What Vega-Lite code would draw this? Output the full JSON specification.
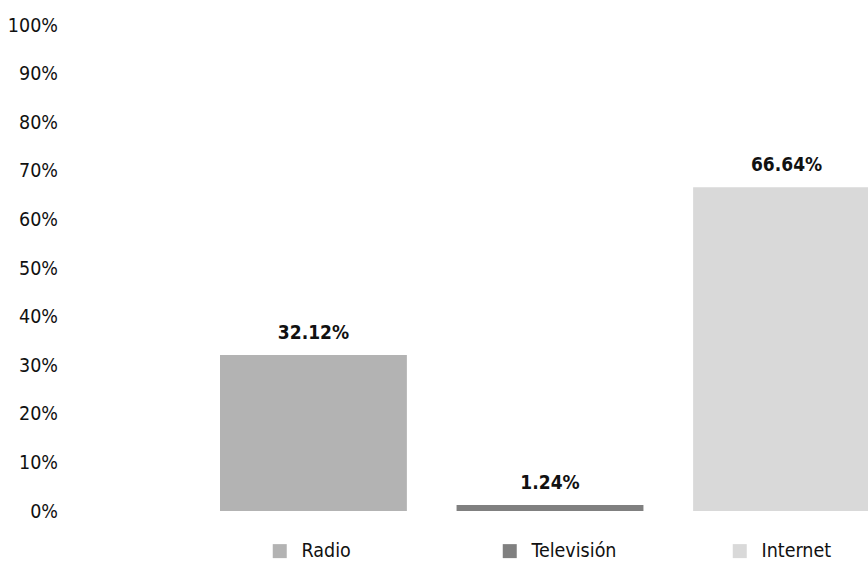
{
  "$schema": "https://vega.github.io/schema/vega-lite/v6.json",
  "width": 798,
  "height": 486,
  "autosize": {"type": "none"},
  "padding": {"left": 70, "top": 25, "right": 0, "bottom": 50},
  "background": "white",
  "config": {"view": {"stroke": null}, "font": "DejaVu Sans Condensed"},
  "data": {"values": [
    {"medio": "Radio", "pct": 0.3212},
    {"medio": "Televisión", "pct": 0.0124},
    {"medio": "Internet", "pct": 0.6664}
  ]},
  "encoding": {
    "x": {"field": "medio", "type": "nominal", "sort": ["Radio", "Televisión", "Internet"],
      "scale": {"range": [150, 810], "paddingInner": 0.21, "paddingOuter": 0}, "axis": null},
    "y": {"field": "pct", "type": "quantitative", "scale": {"domain": [0, 1]},
      "axis": {"values": [0, 0.1, 0.2, 0.3, 0.4, 0.5, 0.6, 0.7, 0.8, 0.9, 1], "format": ".0%",
        "domain": false, "ticks": false, "tickSize": 0, "grid": false, "labelPadding": 12.5,
        "labelFontSize": 19.5, "labelColor": "#111111", "labelFont": "DejaVu Sans Condensed", "title": null}}
  },
  "layer": [
    {"mark": {"type": "bar"},
     "encoding": {"color": {"field": "medio", "type": "nominal",
       "scale": {"domain": ["Radio", "Televisión", "Internet"], "range": ["#b3b3b3", "#808080", "#d9d9d9"]},
       "legend": {"orient": "none", "legendX": 200, "legendY": 516, "direction": "horizontal", "columns": 3,
         "gridAlign": "all", "title": null, "symbolType": "square", "symbolSize": 196, "symbolStrokeWidth": 0,
         "symbolOpacity": 1, "labelFontSize": 19.5, "labelOffset": 12, "columnPadding": 113, "padding": 0,
         "labelFont": "DejaVu Sans Condensed", "labelColor": "#111111"}}}},
    {"mark": {"type": "text", "dy": -16, "fontWeight": "bold", "fontSize": 19, "baseline": "alphabetic",
       "font": "DejaVu Sans Condensed", "color": "#111111"},
     "encoding": {"text": {"field": "pct", "type": "quantitative", "format": ".2%"}}}
  ]
}
